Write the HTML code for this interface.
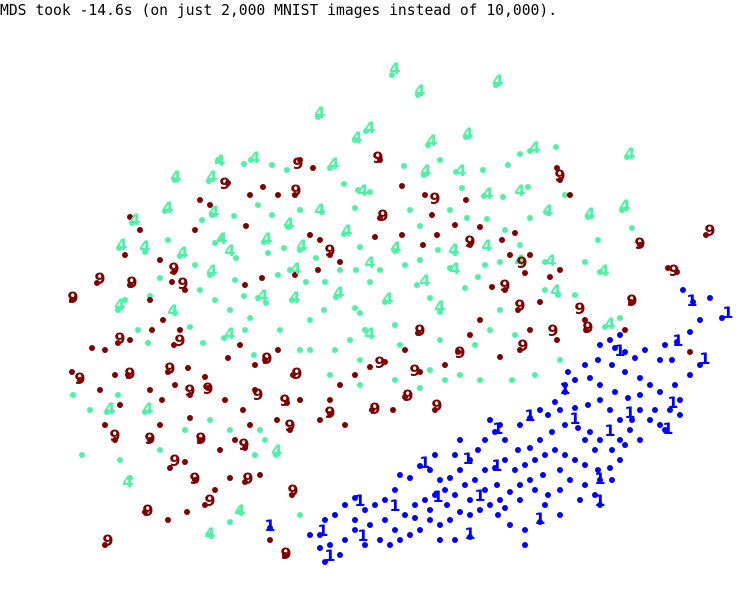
<!DOCTYPE html>
<html><head><meta charset="utf-8">
<style>
html,body{margin:0;padding:0;background:#fff;width:745px;height:589px;overflow:hidden}
#title{position:absolute;left:0;top:2px;font:14.7px "DejaVu Sans Mono","Liberation Mono",monospace;color:#000;white-space:pre}
svg{position:absolute;left:0;top:0}
</style></head><body>
<div id="title">MDS took -14.6s (on just 2,000 MNIST images instead of 10,000).</div>
<svg id="chart" width="745" height="589"></svg>
<script>
// data coordinates (embedding units)
const digitClasses = ["1","4","9"];
const classColors = {"1":"#0000ff","4":"#4df2a4","9":"#800000"};
const greenX=[392,418,496,318,366,355,466,428,530,627,556,251,218,244,272,287,330,344,358,370,404,424,440,456,462,483,508,520,484,503,528,565,588,622,175,209,165,132,202,212,234,258,272,288,300,322,344,355,410,420,450,467,487,530,548,505,520,598,632,119,145,168,180,215,222,236,264,268,284,300,316,360,395,405,380,370,340,356,325,290,278,258,266,244,235,210,195,200,215,230,160,150,125,118,138,148,175,190,203,224,250,292,306,324,336,355,385,417,430,440,465,478,485,500,545,545,558,575,585,600,450,455,438,420,365,350,310,335,310,280,400,430,445,460,420,395,360,360,330,300,254,245,107,145,118,90,73,82,130,120,160,185,210,230,265,276,255,240,210,230,300,260,620,605,560,535,512,480,475,490,500,515,440,395,360];
const greenY=[75,95,85,117,131,140,137,145,151,157,147,160,160,164,165,170,168,184,190,192,166,175,160,172,188,170,165,154,196,197,187,195,217,210,180,181,211,223,220,215,216,205,215,227,210,212,234,208,210,226,210,218,219,218,213,230,245,240,228,248,252,240,256,243,238,258,242,253,248,250,258,247,251,265,270,282,270,270,282,270,275,298,303,296,280,275,265,290,300,310,278,296,300,310,330,343,313,327,343,338,318,300,282,310,297,308,302,285,298,312,288,277,265,262,262,290,295,295,262,272,268,253,250,260,330,340,350,350,320,330,345,370,380,375,388,380,360,385,375,350,355,330,412,412,395,410,395,455,478,460,450,430,420,430,440,455,455,512,535,522,515,430,318,327,360,375,380,380,345,330,310,335,340,325,313];
const redX=[380,300,313,228,295,278,200,250,263,380,402,425,432,437,423,402,375,320,330,340,318,295,262,245,310,470,480,515,502,510,530,525,492,505,518,540,560,557,570,640,706,668,677,631,586,560,550,557,520,500,530,480,470,458,445,418,420,405,385,370,355,340,330,320,330,345,372,393,405,435,300,287,265,278,293,240,228,255,255,243,225,208,205,188,175,168,190,174,180,163,152,130,118,105,92,80,72,115,128,100,72,97,130,174,172,185,150,130,140,125,160,195,246,210,115,105,150,160,190,200,220,235,245,250,290,277,185,170,195,215,245,260,292,205,187,168,145,105,285,270,230,162,150,120,585,625,690,466,455];
const redY=[160,160,168,183,195,195,200,195,187,218,186,195,215,235,245,235,237,240,255,262,270,275,278,285,235,245,227,233,240,255,255,273,287,290,310,302,180,168,195,245,235,268,272,302,330,270,277,340,350,357,330,320,335,352,365,333,372,350,362,367,375,385,400,420,414,425,410,410,397,410,400,403,360,350,375,345,358,365,390,410,400,388,377,368,385,372,395,345,330,320,330,340,343,350,348,380,372,375,375,390,300,283,285,272,282,290,300,217,230,255,260,230,226,205,440,425,440,425,418,440,450,440,448,425,430,420,462,468,480,490,482,475,495,505,512,520,512,545,555,540,478,400,390,405,320,330,352,200,225];
const blueX=[693,722,683,710,700,690,677,665,672,660,645,635,625,615,600,612,625,640,650,660,675,690,700,680,670,660,650,640,628,615,600,590,575,565,555,548,560,575,588,600,610,620,630,640,625,612,600,590,578,565,552,540,530,518,505,495,485,478,470,460,450,440,430,420,410,400,395,385,375,365,355,345,335,325,320,330,345,355,370,385,395,405,415,425,435,445,455,465,475,485,495,505,515,525,535,545,555,565,575,585,598,610,620,600,585,570,560,548,535,520,510,500,490,480,470,460,450,440,430,420,410,400,390,380,365,340,325,320,310,270,355,498,510,525,540,525,470,455,440,600,595,612,580,543,530,485,497,470,447,430,415,435,455,460,490,500,520,530,540,565,568,585,598,610,620,655,665,680,640,585,595,620,632,560,520,505,560,545];
const blueY=[302,318,290,298,320,332,342,345,360,360,350,358,352,348,345,365,372,378,385,392,385,375,365,400,410,425,420,410,398,392,385,378,380,392,402,415,410,408,405,400,410,420,430,440,445,450,440,432,428,425,432,440,448,450,440,432,440,450,460,470,478,480,470,466,478,475,490,500,505,510,498,505,515,520,535,545,540,530,525,520,530,515,505,500,495,490,495,485,480,470,468,460,470,465,460,455,450,455,460,465,470,468,460,480,485,480,490,495,490,485,492,500,505,510,515,512,520,525,520,530,535,540,545,540,545,555,562,548,535,528,520,515,525,530,522,545,537,540,540,505,495,480,500,475,480,490,485,500,505,510,518,455,455,440,420,425,425,418,410,385,372,365,360,340,335,410,430,415,395,440,450,440,420,470,500,508,515,505];
// annotated digit labels (positions in data units)
const greenLabX=[395,420,498,320,370,468,432,357,535,630,255,176,212,334,426,461,220,363,488,520,548,590,625,168,214,135,122,320,347,289,267,222,183,302,212,396,454,487,520,551,604,455,425,296,370,339,295,263,120,173,388,440,556,610,230,370,110,148,277,128,210,240,145,230];
const greenLabY=[68,90,80,112,127,133,140,137,147,153,157,176,176,163,170,170,160,190,193,190,210,213,205,207,211,219,244,209,230,223,238,238,252,245,270,247,249,245,260,260,270,268,280,268,262,292,297,295,304,310,298,306,290,323,333,333,408,408,450,481,533,510,246,250];
const redLabX=[378,298,225,296,383,435,560,710,640,674,632,588,73,100,132,120,174,183,330,470,522,505,520,553,523,580,420,460,380,267,297,180,130,80,170,190,208,258,285,330,375,408,437,415,115,150,201,244,290,175,195,248,293,210,148,108,286];
const redLabY=[157,163,183,190,215,198,175,230,243,270,300,327,297,278,282,338,268,283,250,241,262,285,305,330,345,308,330,352,362,358,373,340,373,378,368,390,388,394,400,412,408,395,405,370,435,438,438,444,425,460,478,478,490,500,510,540,553];
const blueLabX=[692,728,678,705,620,565,530,498,673,630,575,610,468,425,497,480,438,395,360,270,323,363,330,470,540,600,600,668];
const blueLabY=[300,312,340,358,350,388,415,428,402,412,418,430,458,462,465,495,496,505,500,525,530,535,555,533,518,500,478,428];

const NS="http://www.w3.org/2000/svg";
const svg=document.getElementById('chart');
const xDom=[0,745], xRange=[0,745];
const yDom=[0,589], yRange=[0,589];
function xs(v){return xRange[0]+(v-xDom[0])/(xDom[1]-xDom[0])*(xRange[1]-xRange[0]);}
function ys(v){return yRange[0]+(v-yDom[0])/(yDom[1]-yDom[0])*(yRange[1]-yRange[0]);}

function drawDots(X,Y,cls){
  for(let i=0;i<X.length;i++){
    const c=document.createElementNS(NS,'circle');
    c.setAttribute('cx',xs(X[i]));c.setAttribute('cy',ys(Y[i]));c.setAttribute('r',3);
    c.setAttribute('fill',classColors[cls]);
    
    
    svg.appendChild(c);
  }
}
function drawLabels(X,Y,cls){
  for(let i=0;i<X.length;i++){
    const t=document.createElementNS(NS,'text');
    t.setAttribute('x',xs(X[i]));t.setAttribute('y',ys(Y[i])+6);
    t.setAttribute('text-anchor','middle');
    t.setAttribute('fill',classColors[cls]);
    t.setAttribute('font-family','"DejaVu Sans","Liberation Sans",sans-serif');
    t.setAttribute('font-weight','bold');t.setAttribute('font-size','16');
    t.textContent=cls;
    
    
    svg.appendChild(t);
  }
}
drawDots(greenX,greenY,"4");
drawDots(redX,redY,"9");
drawDots(blueX,blueY,"1");
drawLabels(greenLabX,greenLabY,"4");
drawLabels(redLabX,redLabY,"9");
drawLabels(blueLabX,blueLabY,"1");
</script>
</body></html>
